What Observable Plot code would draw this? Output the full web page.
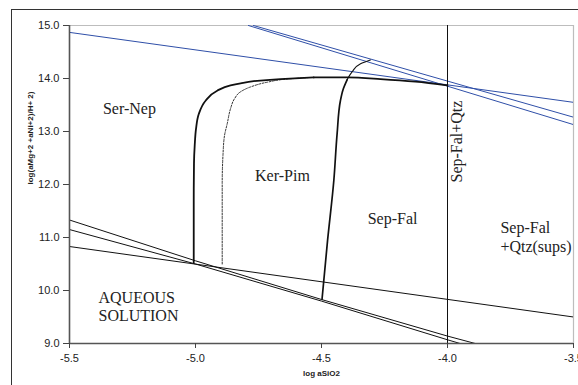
<!DOCTYPE html>
<html>
<head>
<meta charset="utf-8">
<script src="https://cdn.jsdelivr.net/npm/d3@7"></script>
<script src="https://cdn.jsdelivr.net/npm/@observablehq/plot@0.6"></script>
<style>
  html, body { margin: 0; padding: 0; background: #fff; width: 578px; height: 385px; overflow: hidden; }
  #frame { position: absolute; left: 11px; top: 9px; width: 620px; height: 420px; border: 1.5px solid #333; box-sizing: border-box; }
  #chart { position: absolute; left: 0; top: 0; }
</style>
</head>
<body>
<div id="frame"></div>
<div id="chart"></div>
<script>
// ---- data ----
const xTicks = [-5.5, -5.0, -4.5, -4.0, -3.5];
const yTicks = [9, 10, 11, 12, 13, 14, 15];

// Ker-Pim boundary (solid): rising left branch, then the flat top
const kerRiseX = [-5.007, -5.007, -5.006, -5.003, -4.998, -4.987, -4.960, -4.914, -4.861, -4.821, -4.769, -4.663, -4.531];
const kerRiseY = [10.53, 11.70, 12.40, 12.75, 13.05, 13.33, 13.58, 13.77, 13.87, 13.91, 13.95, 13.99, 14.02];
const kerTopX = [-4.531, -4.397, -4.266, -4.127, -4.0];
const kerTopY = [14.02, 14.02, 13.99, 13.94, 13.87];

// dotted boundary
const dotX = [-4.894, -4.894, -4.891, -4.885, -4.874, -4.861, -4.845, -4.821, -4.782, -4.715, -4.636, -4.544];
const dotY = [10.50, 12.02, 12.55, 12.92, 13.15, 13.43, 13.62, 13.75, 13.84, 13.93, 13.99, 14.02];

// Sep-Fal boundary (solid, right)
const sepX = [-4.498, -4.476, -4.451, -4.438, -4.425, -4.413, -4.398];
const sepY = [9.83, 10.94, 12.08, 12.96, 13.58, 13.81, 13.98];
const sepTopX = [-4.398, -4.378, -4.345, -4.306];
const sepTopY = [13.98, 14.13, 14.28, 14.35];

// straight black lines (lower)
const lineAX = [-5.5, -5.0, -4.5, -4.0, -3.89];
const lineAY = [11.33, 10.56, 9.83, 9.14, 9.0];
const lineBX = [-5.5, -5.0, -4.5, -4.0, -3.95];
const lineBY = [11.15, 10.50, 9.80, 9.07, 9.0];
const lineCX = [-5.5, -3.5];
const lineCY = [10.83, 9.50];

// blue lines (upper)
const blueAX = [-5.5, -3.5];
const blueAY = [14.87, 13.55];
const blueBX = [-4.77, -3.5];
const blueBY = [15.0, 13.27];
const blueCX = [-4.79, -3.5];
const blueCY = [15.0, 13.13];

// quartz saturation
const qtzX = [-4.0];

// region labels
const regionText = ["Ser-Nep", "Ker-Pim", "Sep-Fal"];
const regionX = [-5.262, -4.655, -4.218];
const regionY = [13.43, 12.17, 11.36];
const leftText = ["AQUEOUS\nSOLUTION", "Sep-Fal\n+Qtz(sups)"];
const leftX = [-5.385, -3.79];
const leftY = [9.70, 11.02];
const vertText = ["Sep-Fal+Qtz"];
const vertX = [-3.962];
const vertY = [12.81];

const xLabel = "log aSiO2";
const yLabel = "log(aMg+2 +aNi+2)/H+ 2)";

// ---- build ----
const pts = (xs, ys) => xs.map((x, i) => ({x, y: ys[i]}));
const serif = "'Liberation Serif', 'Times New Roman', serif";
const black = "#111";
const blue = "#2f4fa8";

const chart = Plot.plot({
  width: 578,
  height: 385,
  marginLeft: 69,
  marginRight: 5,
  marginTop: 25,
  marginBottom: 42,
  x: {domain: [-5.5, -3.5]},
  y: {domain: [9, 15]},
  style: {fontFamily: "'Liberation Sans', Arial, sans-serif", fontSize: "11px", color: "#222", background: "transparent"},
  marks: [
    Plot.ruleY([15], {stroke: "#bdbdbd", strokeWidth: 1.2}),
    Plot.ruleX([-3.5], {stroke: "#bdbdbd", strokeWidth: 1.2}),
    Plot.line(pts(blueAX, blueAY), {x: "x", y: "y", stroke: blue, strokeWidth: 1, clip: true}),
    Plot.line(pts(blueBX, blueBY), {x: "x", y: "y", stroke: blue, strokeWidth: 1, clip: true}),
    Plot.line(pts(blueCX, blueCY), {x: "x", y: "y", stroke: blue, strokeWidth: 1, clip: true}),
    Plot.line(pts(lineAX, lineAY), {x: "x", y: "y", stroke: black, strokeWidth: 1, clip: true}),
    Plot.line(pts(lineBX, lineBY), {x: "x", y: "y", stroke: black, strokeWidth: 1, clip: true}),
    Plot.line(pts(lineCX, lineCY), {x: "x", y: "y", stroke: black, strokeWidth: 1, clip: true}),
    Plot.ruleX(qtzX, {stroke: black, strokeWidth: 1}),
    Plot.line(pts(dotX, dotY), {x: "x", y: "y", stroke: "#333", strokeWidth: 1, strokeDasharray: "2,1.5", curve: "monotone-y"}),
    Plot.line(pts(kerRiseX, kerRiseY), {x: "x", y: "y", stroke: black, strokeWidth: 1.8, curve: "monotone-y"}),
    Plot.line(pts(kerTopX, kerTopY), {x: "x", y: "y", stroke: black, strokeWidth: 1.8, curve: "monotone-x"}),
    Plot.line(pts(sepX, sepY), {x: "x", y: "y", stroke: black, strokeWidth: 1.7, curve: "monotone-y"}),
    Plot.line(pts(sepTopX, sepTopY), {x: "x", y: "y", stroke: black, strokeWidth: 1.1, curve: "monotone-y"}),
    Plot.text(regionText, {x: (d, i) => regionX[i], y: (d, i) => regionY[i], text: d => d, fontFamily: serif, fontSize: 16, fill: "#222"}),
    Plot.text(leftText, {x: (d, i) => leftX[i], y: (d, i) => leftY[i], text: d => d, fontFamily: serif, fontSize: 16, fill: "#222", textAnchor: "start", lineHeight: 1.15}),
    Plot.text(vertText, {x: (d, i) => vertX[i], y: (d, i) => vertY[i], text: d => d, fontFamily: serif, fontSize: 16, fill: "#222", rotate: -90}),
    Plot.ruleY([9], {stroke: "#555", strokeWidth: 1.6}),
    Plot.ruleX([-5.5], {stroke: "#555", strokeWidth: 1.6}),
    Plot.axisX({ticks: xTicks, tickFormat: d => d.toFixed(1), tickSize: 5, tickPadding: 6, label: null, stroke: "#444"}),
    Plot.axisY({ticks: yTicks, tickFormat: d => d.toFixed(1), tickSize: 6, tickPadding: 4, label: null, stroke: "#444"}),
    Plot.text([xLabel], {frameAnchor: "bottom", dy: 32, text: d => d, fontWeight: "bold", fontSize: 8, fill: "#222"}),
    Plot.text([yLabel], {frameAnchor: "left", dx: -39, rotate: -90, text: d => d, fontWeight: "bold", fontSize: 8, fill: "#222"})
  ]
});
document.getElementById("chart").appendChild(chart);
</script>
</body>
</html>
